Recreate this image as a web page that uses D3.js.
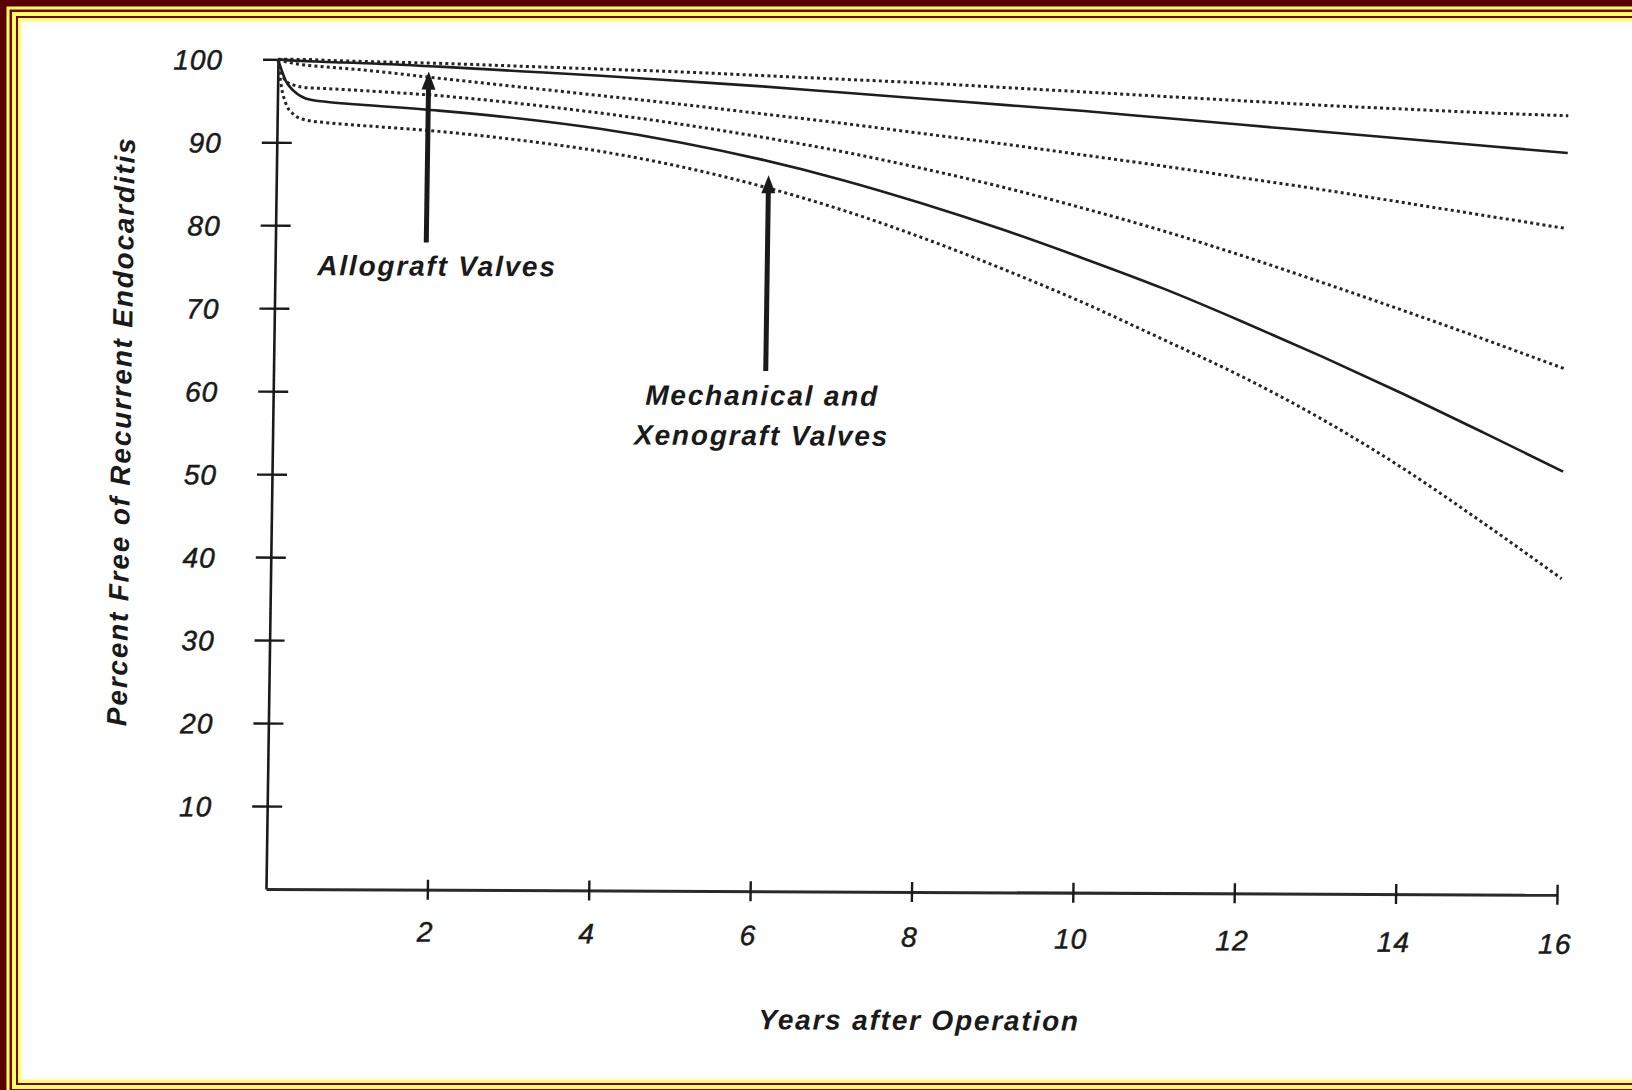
<!DOCTYPE html>
<html>
<head>
<meta charset="utf-8">
<script src="https://cdn.jsdelivr.net/npm/d3@7"></script>
<style>
  html, body { margin: 0; padding: 0; background: #fff; overflow: hidden; }
  svg text { font-family: "Liberation Sans", Arial, Helvetica, sans-serif; fill: #1a1a1a; }
</style>
</head>
<body>
<svg id="chart" width="1632" height="1090"></svg>
<script>
// Freedom from recurrent endocarditis after valve replacement (percent), by years after operation.
const years      = [0, 0.05, 0.1, 0.2, 0.35, 0.6, 1, 2, 3, 4, 5, 6, 7, 8, 9, 10, 11, 12, 13, 14, 15, 16];

// Allograft valves: estimate with upper and lower confidence limits
const alloUpper  = [100, 100, 100, 100, 100, 99.9, 99.8, 99.6, 99.3, 99.0, 98.7, 98.3, 97.9, 97.5, 97.0, 96.5, 96.0, 95.5, 95.0, 94.6, 94.2, 93.9];
const alloMain   = [100, 99.95, 99.9, 99.85, 99.8, 99.7, 99.6, 99.2, 98.7, 98.2, 97.6, 97.0, 96.3, 95.6, 94.9, 94.2, 93.4, 92.6, 91.8, 91.0, 90.2, 89.4];
const alloLower  = [100, 99.8, 99.7, 99.5, 99.3, 99.1, 98.8, 97.8, 96.8, 95.8, 94.8, 93.7, 92.6, 91.4, 90.2, 88.9, 87.6, 86.2, 84.8, 83.3, 81.8, 80.3];

// Mechanical and xenograft valves: estimate with upper and lower confidence limits
const mechUpper  = [100, 98.3, 97.4, 96.9, 96.6, 96.5, 96.3, 95.7, 94.8, 93.7, 92.4, 90.9, 89.2, 87.2, 85.0, 82.5, 79.8, 76.8, 73.6, 70.3, 66.9, 63.4];
const mechMain   = [100, 98.6, 97.4, 96.2, 95.3, 94.9, 94.6, 93.9, 93.0, 91.8, 90.2, 88.2, 85.8, 83.0, 79.9, 76.5, 72.9, 68.9, 64.7, 60.3, 55.7, 51.0];
const mechLower  = [100, 96.5, 94.8, 93.4, 92.7, 92.4, 92.1, 91.4, 90.4, 89.1, 87.3, 85.0, 82.2, 78.9, 75.2, 71.2, 66.8, 62.3, 57.2, 51.4, 44.9, 38.1];

const xTicks = [2, 4, 6, 8, 10, 12, 14, 16];
const yTicks = [10, 20, 30, 40, 50, 60, 70, 80, 90, 100];

const yTitle = "Percent Free of Recurrent Endocarditis";
const xTitle = "Years after Operation";
const alloLabel = ["Allograft Valves"];
const mechLabel = ["Mechanical and", "Xenograft Valves"];

// pointer arrows: [year, value at tail, value at tip]
const alloArrow = [1.87, 78.0, 98.6];
const mechArrow = [6.10, 62.7, 86.3];

const W = 1632, H = 1090;
const svg = d3.select("#chart");

// ---- decorative frame: nested bands, open to the right ----
const frameBands = [
  { inset: 0,    fill: "#5a0000" },
  { inset: 6.5,  fill: "#ffff66" },
  { inset: 9.5,  fill: "#7a0505" },
  { inset: 12,   fill: "#ffff66" },
  { inset: 16,   fill: "#7a0505" },
  { inset: 18,   fill: "#ffff73" },
  { inset: 21.5, fill: "#ffffff" }
];
const frameRight = 1720, frameBottom = 1101;
svg.selectAll("rect.band").data(frameBands).join("rect")
  .attr("class", "band")
  .attr("x", d => d.inset).attr("y", d => d.inset)
  .attr("width", d => frameRight - 2 * d.inset)
  .attr("height", d => frameBottom - 2 * d.inset)
  .attr("fill", d => d.fill);

// ---- plot geometry ----
const x0 = 266, x1 = 1557, yBase = 889, yTop = 59.3;
const x = d3.scaleLinear().domain([0, 16]).range([x0, x1]);
const y = d3.scaleLinear().domain([0, 100]).range([yBase, yTop]);

// the printed figure is slightly sheared; reproduce it about the origin
const shearX = -0.0145, shearY = 0.0045;
const g = svg.append("g")
  .attr("transform", `matrix(1,${shearY},${shearX},1,${-shearX * yBase},${-shearY * x0})`);

const tickTextStyle = sel => sel
  .attr("font-size", 28).attr("font-style", "italic").attr("fill", "#1a1a1a")
  .attr("stroke", "#1a1a1a").attr("stroke-width", 0.5)
  .attr("letter-spacing", 1);

// ---- axes ----
const yAxis = d3.axisLeft(y).tickValues(yTicks).tickSizeInner(15).tickSizeOuter(0).tickPadding(40).tickFormat(d3.format("d"));
const yg = g.append("g").attr("transform", `translate(${x0},0)`).call(yAxis);
yg.selectAll(".tick line").attr("x1", 15).attr("stroke", "#1a1a1a").attr("stroke-width", 2.4);
yg.select(".domain").attr("stroke", "#1a1a1a").attr("stroke-width", 2.6);
yg.selectAll(".tick text").call(tickTextStyle).attr("dy", "0.36em");

const xAxis = d3.axisBottom(x).tickValues(xTicks).tickSizeInner(10).tickSizeOuter(0).tickFormat(d3.format("d"));
const xg = g.append("g").attr("transform", `translate(0,${yBase})`).call(xAxis);
xg.selectAll(".tick line").attr("y1", -10).attr("stroke", "#1a1a1a").attr("stroke-width", 2.4);
xg.select(".domain").attr("stroke", "#2a2a2a").attr("stroke-width", 3);
xg.selectAll(".tick text").call(tickTextStyle)
  .attr("x", -2)
  .attr("y", d => 32 + 0.5 * (d - 2)).attr("dy", "0.71em");

// ---- curves ----
const line = d3.line().x(d => x(d[0])).y(d => y(d[1])).curve(d3.curveMonotoneX);
const series = [
  { values: alloUpper, dotted: true },
  { values: alloMain,  dotted: false },
  { values: alloLower, dotted: true },
  { values: mechUpper, dotted: true },
  { values: mechMain,  dotted: false },
  { values: mechLower, dotted: true }
];
g.selectAll("path.curve").data(series).join("path")
  .attr("class", "curve")
  .attr("d", s => line(years.map((t, i) => [t, s.values[i]])))
  .attr("fill", "none")
  .attr("stroke", s => s.dotted ? "#262626" : "#1e1e1e")
  .attr("stroke-width", s => s.dotted ? 3 : 2.6)
  .attr("stroke-dasharray", s => s.dotted ? "3 3.2" : null);

// ---- pointer arrows ----
function arrow(a) {
  const ax = x(a[0]), yTail = y(a[1]), yTip = y(a[2]);
  const headLen = 18, headHalf = 7;
  g.append("line")
    .attr("x1", ax).attr("x2", ax).attr("y1", yTail).attr("y2", yTip + headLen - 2)
    .attr("stroke", "#1a1a1a").attr("stroke-width", 5);
  g.append("path")
    .attr("d", `M${ax},${yTip} L${ax + headHalf},${yTip + headLen} L${ax - headHalf},${yTip + headLen} Z`)
    .attr("fill", "#1a1a1a");
}
arrow(alloArrow);
arrow(mechArrow);

// ---- labels ----
const titleStyle = sel => sel
  .attr("font-size", 28).attr("font-weight", "bold").attr("font-style", "italic")
  .attr("letter-spacing", 1.8).attr("text-anchor", "middle").attr("fill", "#1a1a1a");

g.append("text").attr("transform", `translate(124,432) rotate(-90)`).text(yTitle).call(titleStyle);
g.append("text").attr("x", 921).attr("y", 1027).text(xTitle).call(titleStyle);

g.selectAll("text.allo").data(alloLabel).join("text").attr("class", "allo")
  .attr("x", 428).attr("y", (d, i) => 275 + i * 40).text(d => d).call(titleStyle);
g.selectAll("text.mech").data(mechLabel).join("text").attr("class", "mech")
  .attr("x", 755).attr("y", (d, i) => 403 + i * 40).text(d => d).call(titleStyle);
</script>
</body>
</html>
